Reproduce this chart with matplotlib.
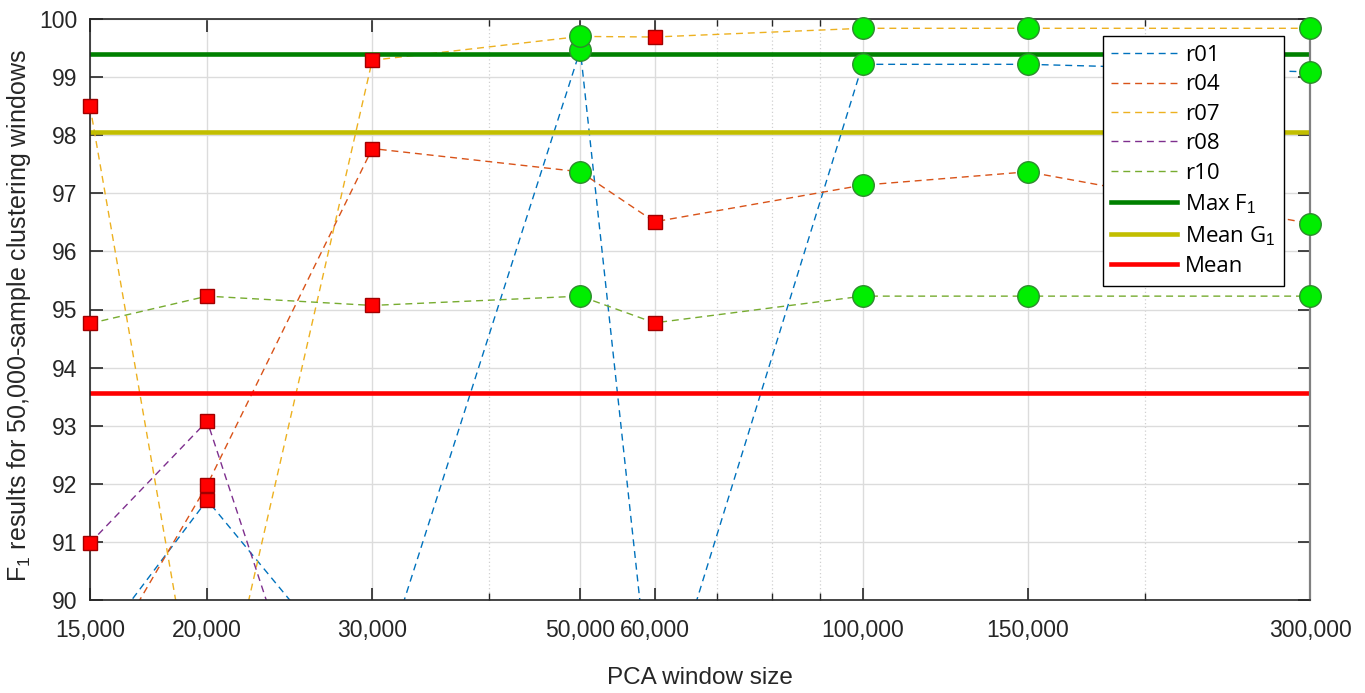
import matplotlib
matplotlib.use('Agg')
import matplotlib.pyplot as plt
from matplotlib.ticker import FixedLocator, FixedFormatter, NullFormatter

# ---- data ----
window_sizes = [15000, 20000, 30000, 50000, 60000, 100000, 150000, 300000]
tick_labels = ['15,000', '20,000', '30,000', '50,000', '60,000', '100,000', '150,000', '300,000']
minor_ticks = [40000, 70000, 80000, 90000, 200000]
y_ticks = [90, 91, 92, 93, 94, 95, 96, 97, 98, 99, 100]

r01 = [89.05, 91.72, 88.28, 99.47, 87.65, 99.22, 99.22, 99.09]
r04 = [88.54, 91.98, 97.77, 97.37, 96.51, 97.14, 97.37, 96.48]
r07 = [98.50, 86.87, 99.29, 99.70, 99.69, 99.84, 99.84, 99.84]
r08 = [90.98, 93.08, 84.47, 86.00, 85.00, 86.50, 86.50, 86.00]
r10 = [94.76, 95.23, 95.07, 95.23, 94.77, 95.23, 95.23, 95.23]
series_names = ['r01', 'r04', 'r07', 'r08', 'r10']
series_values = [r01, r04, r07, r08, r10]
highlight = [False, False, False, True, False, True, True, True]

max_f1 = 99.39
mean_g1 = 98.05
mean_all = 93.57

# ---- style ----
series_colors = ['#0072BD', '#D95319', '#EDB120', '#7E2F8E', '#77AC30']
plt.rcParams['font.family'] = ['Liberation Sans', 'DejaVu Sans']
plt.rcParams['mathtext.fontset'] = 'custom'
plt.rcParams['mathtext.rm'] = 'Liberation Sans'
plt.rcParams['mathtext.it'] = 'Liberation Sans'

fig = plt.figure(figsize=(13.65, 6.93), dpi=100)
ax = fig.add_axes([90/1365, 1-600/693, 1220/1365, 581/693])

for name, vals, col in zip(series_names, series_values, series_colors):
    ax.plot(window_sizes, vals, linestyle=(0, (5, 3.5)), color=col, lw=1.0,
            label=name, zorder=2)

ax.axhline(max_f1, color='#008000', lw=3.3, label=r'Max F$_1$', zorder=2.5)
ax.axhline(mean_g1, color='#C2BE00', lw=3.3, label=r'Mean G$_1$', zorder=2.5)
ax.axhline(mean_all, color='#FF0000', lw=3.3, label='Mean', zorder=2.5)

for vals in series_values:
    for xv, yv, h in zip(window_sizes, vals, highlight):
        inside = 90 <= yv <= 100
        if h:
            ax.plot([xv], [yv], marker='o', ms=15.5, mfc='#00EE00',
                    mec='#2E8B2E', mew=1.0, ls='none', zorder=4,
                    clip_on=not inside)
        else:
            ax.plot([xv], [yv], marker='s', ms=10, mfc='#FF0000',
                    mec='#A00000', mew=1.0, ls='none', zorder=4,
                    clip_on=not inside)

ax.set_xscale('log')
ax.set_xlim(15000, 300000)
ax.set_ylim(90, 100)
ax.xaxis.set_major_locator(FixedLocator(window_sizes))
ax.xaxis.set_major_formatter(FixedFormatter(tick_labels))
ax.xaxis.set_minor_locator(FixedLocator(minor_ticks))
ax.xaxis.set_minor_formatter(NullFormatter())
ax.set_yticks(y_ticks)

ax.grid(True, which='major', color='#DCDCDC', lw=1.0, zorder=0)
ax.grid(True, which='minor', axis='x', color='#D0D0D0', lw=0.9,
        linestyle=(0, (1, 2)), zorder=0)
ax.set_axisbelow(True)

ax.tick_params(which='major', direction='in', length=9, width=1.2,
               top=True, right=True, labelsize=16.5, colors='#262626')
ax.tick_params(which='minor', direction='in', length=5, width=1.0,
               top=True, right=True, colors='#262626')
ax.tick_params(axis='x', which='major', pad=14)
ax.tick_params(axis='y', which='major', pad=9)
for s in ['left', 'bottom', 'top']:
    ax.spines[s].set_color('#262626')
    ax.spines[s].set_linewidth(1.2)
ax.spines['right'].set_color('#808080')
ax.spines['right'].set_linewidth(1.6)

ax.set_xlabel('PCA window size', fontsize=17.5, color='#262626', labelpad=18)
ax.set_ylabel(r'F$_1$ results for 50,000-sample clustering windows',
              fontsize=18, color='#262626')
ax.yaxis.set_label_coords(-0.047, 0.49)

leg = ax.legend(loc='upper left', bbox_to_anchor=(0.830, 0.9707),
                prop={'family': ['Open Sans', 'DejaVu Sans'], 'size': 16},
                frameon=True, fancybox=False, edgecolor='#000000',
                framealpha=1.0, handlelength=2.95, handletextpad=0.35,
                labelspacing=0.38, borderpad=0.4, borderaxespad=0)
leg.get_frame().set_linewidth(1.0)
leg.set_zorder(10)

fig.savefig('out.png', dpi=100)
